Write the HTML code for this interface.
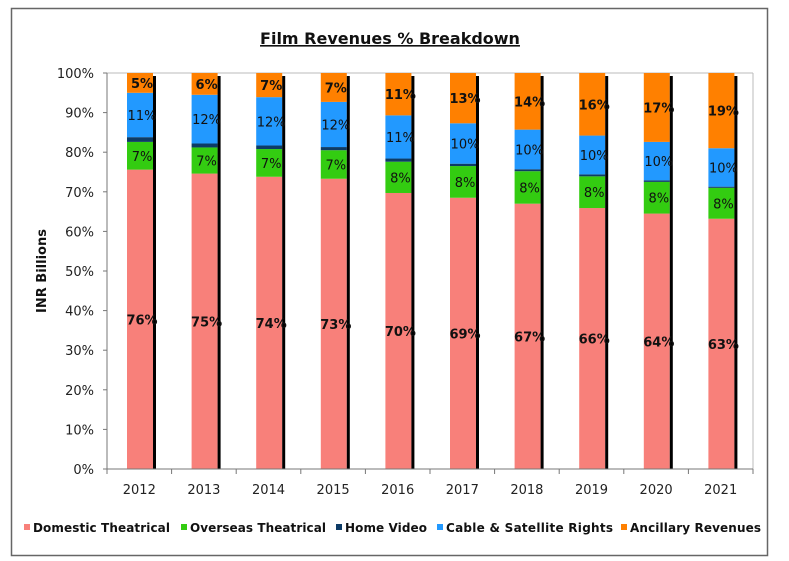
<!DOCTYPE html>
<html><head><meta charset="utf-8"><style>
html,body{margin:0;padding:0;background:#fff;}
svg{display:block;font-family:"DejaVu Sans","Liberation Sans",sans-serif;}
</style></head><body>
<svg width="789" height="561" viewBox="0 0 789 561" xmlns="http://www.w3.org/2000/svg">
<rect x="0" y="0" width="789" height="561" fill="#fff"/>
<rect x="11.5" y="8.5" width="756" height="547" fill="#fff" stroke="#666" stroke-width="1.5"/>
<text x="390" y="44" font-size="16" font-weight="bold" text-anchor="middle" text-decoration="underline" fill="#111">Film Revenues % Breakdown</text>
<line x1="107" y1="73" x2="753" y2="73" stroke="#bbb" stroke-width="1"/>
<line x1="753" y1="73" x2="753" y2="469" stroke="#bbb" stroke-width="1"/>
<g id="bars"></g>
<line x1="107" y1="73" x2="107" y2="469" stroke="#777" stroke-width="1"/>
<line x1="107" y1="469" x2="753" y2="469" stroke="#777" stroke-width="1"/>
<g id="axes" font-size="13" fill="#222"></g>
<text transform="translate(46,271) rotate(-90)" font-size="13" font-weight="bold" text-anchor="middle" fill="#111">INR Billions</text>
<g font-size="12" font-weight="bold" fill="#111">
<rect x="24" y="524" width="6" height="6" fill="#f8807a"/><text x="33" y="532" textLength="137">Domestic Theatrical</text>
<rect x="181" y="524" width="6" height="6" fill="#33cc11"/><text x="190" y="532" textLength="136">Overseas Theatrical</text>
<rect x="336" y="524" width="6" height="6" fill="#0d3b66"/><text x="345" y="532" textLength="82">Home Video</text>
<rect x="437" y="524" width="6" height="6" fill="#2299ff"/><text x="446" y="532" textLength="167">Cable &amp; Satellite Rights</text>
<rect x="621" y="524" width="6" height="6" fill="#ff8000"/><text x="630" y="532" textLength="131">Ancillary Revenues</text>
</g>
<script>
var data=[[75.6,7,1.2,11.2,5,76,7,11,5],[74.6,6.6,1,12.3,5.5,75,7,12,6],[73.8,7,0.9,12.2,6.1,74,7,12,7],[73.3,7.2,0.8,11.4,7.3,73,7,12,7],[69.7,7.9,0.8,10.9,10.7,70,8,11,11],[68.5,8,0.6,10.2,12.7,69,8,10,13],[67,8.2,0.5,10,14.3,67,8,10,14],[65.9,8,0.5,9.8,15.8,66,8,10,16],[64.5,8,0.4,9.7,17.4,64,8,10,17],[63.2,7.8,0.3,9.7,19,63,8,10,19]];
var cols=["#f8807a","#33cc11","#0d3b66","#2299ff","#ff8000"];
var NS="http://www.w3.org/2000/svg",g=document.getElementById("bars"),ax=document.getElementById("axes");
function el(t,a,p,txt){var e=document.createElementNS(NS,t);for(var k in a)e.setAttribute(k,a[k]);if(txt!=null)e.textContent=txt;p.appendChild(e);return e;}
var y0=469,H=396,cw=64.6;
data.forEach(function(d,i){var x=127+i*cw,w=26,c=0;var ys=[];
for(var s=0;s<5;s++){var h=d[s]/100*H;var top=y0-(c+d[s])/100*H;el("rect",{x:x,y:top,width:w,height:h,fill:cols[s]},g);ys.push(top+h/2);c+=d[s];}
el("rect",{x:x+w,y:76,width:3,height:393,fill:"#000"},g);
var lx=x+w/2+2;
el("text",{x:lx,y:ys[0]+5,"font-size":13,"font-weight":"bold","text-anchor":"middle",fill:"#111"},g,d[5]+"%");
el("text",{x:lx,y:ys[1]+5,"font-size":13,"text-anchor":"middle",fill:"#111"},g,d[6]+"%");
el("text",{x:lx,y:ys[3]+5,"font-size":13,"text-anchor":"middle",fill:"#111"},g,d[7]+"%");
el("text",{x:lx,y:ys[4]+5,"font-size":13,"font-weight":"bold","text-anchor":"middle",fill:"#111"},g,d[8]+"%");
el("text",{x:107+cw*(i+0.5),y:494,"text-anchor":"middle"},ax,String(2012+i));
el("line",{x1:107+cw*(i+1),y1:469,x2:107+cw*(i+1),y2:474,stroke:"#777"},ax);
});
for(var k=0;k<=10;k++){var y=y0-k*H/10;el("line",{x1:103,y1:y,x2:107,y2:y,stroke:"#777"},ax);el("text",{x:94,y:y+5,"text-anchor":"end"},ax,(k*10)+"%");}
el("line",{x1:107,y1:469,x2:107,y2:474,stroke:"#777"},ax);
</script>
</svg>
</body></html>
